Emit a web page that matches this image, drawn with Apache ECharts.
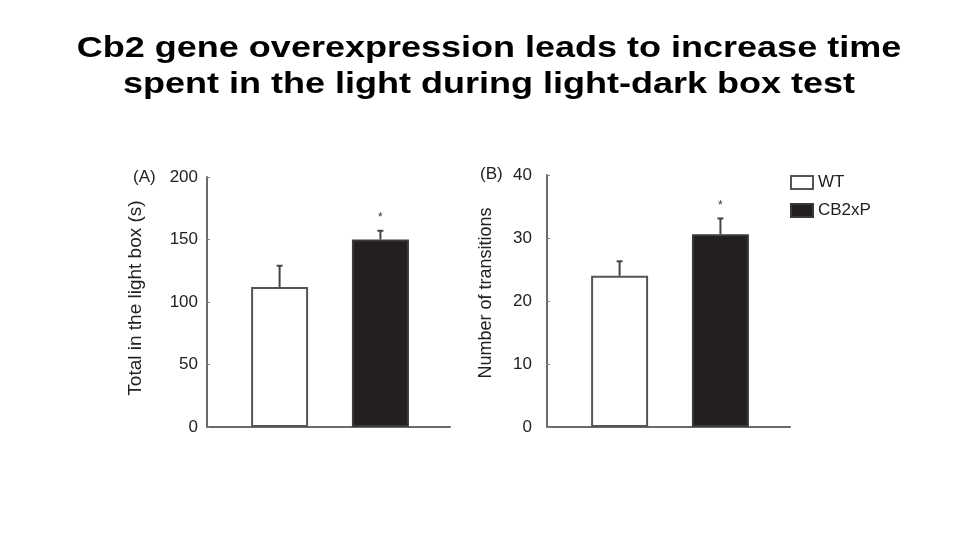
<!DOCTYPE html>
<html lang="en">
<head>
<meta charset="UTF-8">
<title>Cb2 light-dark box</title>
<script src="https://cdn.jsdelivr.net/npm/echarts@6/dist/echarts.min.js"></script>
<style>
  html, body { margin: 0; padding: 0; background: #fff; }
  #main { width: 960px; height: 540px; }
</style>
</head>
<body>
<div id="main"></div>
<script>
// groups + values
const groups = ['WT', 'CB2xP'];
const timeMean = [112, 150];      // (A) total time in light box, s
const timeSem = [17, 7];
const transMean = [24, 30.6];     // (B) number of transitions
const transSem = [2.3, 2.5];
const sigMarks = ['', '*'];

const FONT = 'Arial, "Liberation Sans", sans-serif';
const barColors = ['#ffffff', '#231f20'];
const barBorders = ['#555555', '#3a3a3a'];

var myChart = echarts.init(document.getElementById('main'));

function xAxisFor(gridIndex) {
  return {
    type: 'value', gridIndex: gridIndex,
    min: -0.72, max: 1.69,
    axisLine: { show: true, onZero: false, lineStyle: { color: '#6a6a6a', width: 2 } },
    axisTick: { show: false }, axisLabel: { show: false }, splitLine: { show: false }
  };
}

function yAxisFor(gridIndex, max, interval, name, gap, margin, fontSize, shiftUp) {
  return {
    type: 'value', gridIndex: gridIndex,
    min: 0, max: max, interval: interval,
    name: name, nameLocation: 'middle', nameGap: gap, nameRotate: 90,
    nameTextStyle: { fontFamily: FONT, fontSize: fontSize, color: '#222', padding: [0, 0, 0, shiftUp * 2] },
    axisLine: { show: true, onZero: false, lineStyle: { color: '#6a6a6a', width: 2 } },
    axisTick: { show: true, inside: true, length: 3, lineStyle: { color: '#888' } },
    axisLabel: { fontFamily: FONT, fontSize: 17, color: '#222', margin: margin },
    splitLine: { show: false }
  };
}

function barSeries(idx, gridIndex, means) {
  return {
    name: groups[idx], type: 'bar',
    xAxisIndex: gridIndex, yAxisIndex: gridIndex,
    barWidth: 57, barGap: '-100%',
    itemStyle: { color: barColors[idx], borderColor: barBorders[idx], borderWidth: 2 },
    data: [[idx, means[idx]]]
  };
}

function errSeries(gridIndex, means, sems) {
  return {
    type: 'custom', xAxisIndex: gridIndex, yAxisIndex: gridIndex, z: 5,
    data: means.map((m, i) => [i, m, m + sems[i]]),
    renderItem: function (params, api) {
      var i = api.value(0);
      var lo = api.coord([i, api.value(1)]);
      var hi = api.coord([i, api.value(2)]);
      var kids = [
        { type: 'line', shape: { x1: lo[0], y1: lo[1], x2: hi[0], y2: hi[1] },
          style: { stroke: '#444', lineWidth: 2 } },
        { type: 'line', shape: { x1: hi[0] - 3, y1: hi[1], x2: hi[0] + 3, y2: hi[1] },
          style: { stroke: '#444', lineWidth: 2 } }
      ];
      var mark = sigMarks[params.dataIndex];
      if (mark) {
        kids.push({ type: 'text', x: hi[0], y: hi[1] - 13,
          style: { text: mark, fontFamily: FONT, fontSize: 12, fill: '#333', align: 'center', verticalAlign: 'middle' } });
      }
      return { type: 'group', children: kids };
    }
  };
}

var option = {
  animation: false,
  backgroundColor: '#fff',
  legend: {
    orient: 'vertical', left: 785, top: 169,
    itemWidth: 22, itemHeight: 13, itemGap: 11,
    icon: 'rect',
    data: groups,
    textStyle: { fontFamily: FONT, fontSize: 17, color: '#222' }
  },
  graphic: [
    // title is horizontally stretched in the original slide
    { type: 'text', x: 489, y: 31, scaleX: 1.2, originX: 0,
      style: { text: 'Cb2 gene overexpression leads to increase time\nspent in the light during light-dark box test',
        fontFamily: FONT, fontSize: 30, fontWeight: 'bold', fill: '#000', lineHeight: 36, align: 'center' } },
    { type: 'text', left: 133, top: 169, style: { text: '(A)', fontFamily: FONT, fontSize: 17, fill: '#222' } },
    { type: 'text', left: 480, top: 166, style: { text: '(B)', fontFamily: FONT, fontSize: 17, fill: '#222' } }
  ],
  grid: [
    { left: 207, top: 177, width: 243, height: 250 },
    { left: 547, top: 175, width: 243, height: 252 }
  ],
  xAxis: [xAxisFor(0), xAxisFor(1)],
  yAxis: [
    yAxisFor(0, 200, 50, 'Total in the light box (s)', 62, 9, 19, 4),
    yAxisFor(1, 40, 10, 'Number of transitions', 52, 15, 18, 8)
  ],
  series: [
    barSeries(0, 0, timeMean), barSeries(1, 0, timeMean), errSeries(0, timeMean, timeSem),
    barSeries(0, 1, transMean), barSeries(1, 1, transMean), errSeries(1, transMean, transSem)
  ]
};
myChart.setOption(option);
</script>
</body>
</html>
